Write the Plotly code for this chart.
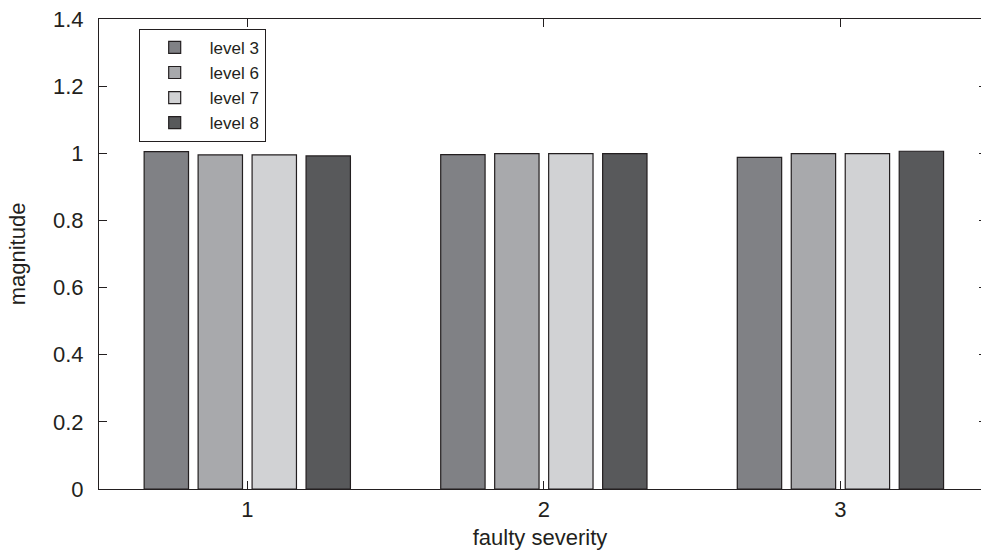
import plotly.graph_objects as go

# ---- data ----
categories = [1, 2, 3]
series_names = ["level 3", "level 6", "level 7", "level 8"]
level3 = [1.005, 0.996, 0.988]
level6 = [0.995, 0.999, 0.999]
level7 = [0.995, 0.999, 0.999]
level8 = [0.992, 0.999, 1.006]
y_tick_vals = [0, 0.2, 0.4, 0.6, 0.8, 1.0, 1.2, 1.4]
y_tick_text = ["0", "0.2", "0.4", "0.6", "0.8", "1", "1.2", "1.4"]
x_tick_text = ["1", "2", "3"]

series_values = [level3, level6, level7, level8]
colors = ["#808185", "#a8a9ac", "#d1d2d4", "#58595b"]

FONT = "Liberation Sans, Arial, sans-serif"
INK = "#231f20"

fig = go.Figure()
for name, vals, col in zip(series_names, series_values, colors):
    fig.add_trace(go.Bar(
        x=categories, y=vals, name=name,
        marker=dict(color=col, line=dict(color=INK, width=1.2)),
    ))

# invisible overlay axis for the right-hand tick marks
fig.add_trace(go.Scatter(x=categories, y=level3, yaxis="y2", mode="markers",
                         marker=dict(opacity=0), showlegend=False, hoverinfo="skip"))

fig.update_layout(
    width=981, height=554,
    margin=dict(l=99, r=0, t=19, b=65, autoexpand=False),
    paper_bgcolor="white", plot_bgcolor="white",
    barmode="group", bargap=0.272, bargroupgap=0.178,
    font=dict(family=FONT, size=22, color=INK),
    showlegend=True,
    legend=dict(
        x=0.045, y=0.979, xanchor="left", yanchor="top",
        bgcolor="white", bordercolor=INK, borderwidth=1,
        font=dict(family=FONT, size=17, color=INK),
        itemwidth=60, tracegroupgap=0,
    ),
    xaxis=dict(
        range=[0.5, 3.474], tickmode="array", tickvals=categories, ticktext=x_tick_text,
        ticks="inside", ticklen=8, tickcolor=INK, tickwidth=1,
        showline=True, linecolor=INK, linewidth=1.2, mirror="ticks",
        showgrid=False, zeroline=False, automargin=False,
        tickfont=dict(size=22),
        title=dict(text="faulty severity", font=dict(size=22), standoff=9),
    ),
    yaxis=dict(
        range=[0, 1.4], tickmode="array", tickvals=y_tick_vals, ticktext=y_tick_text,
        ticks="inside", ticklen=8, tickcolor=INK, tickwidth=1,
        showline=True, linecolor=INK, linewidth=1.2,
        showgrid=False, zeroline=False, automargin=False,
        tickfont=dict(size=22), ticklabelstandoff=10,
        title=dict(text="magnitude", font=dict(size=22), standoff=21),
    ),
    yaxis2=dict(
        overlaying="y", side="right", range=[0, 1.4],
        tickmode="array", tickvals=y_tick_vals, showticklabels=False,
        ticks="inside", ticklen=2, tickcolor=INK, tickwidth=1,
        showline=False, showgrid=False, zeroline=False, automargin=False,
    ),
)

fig.write_html(
    "out.html",
    config={"displayModeBar": False},
    post_script="document.body.style.margin='0';document.body.style.overflow='hidden';",
)
